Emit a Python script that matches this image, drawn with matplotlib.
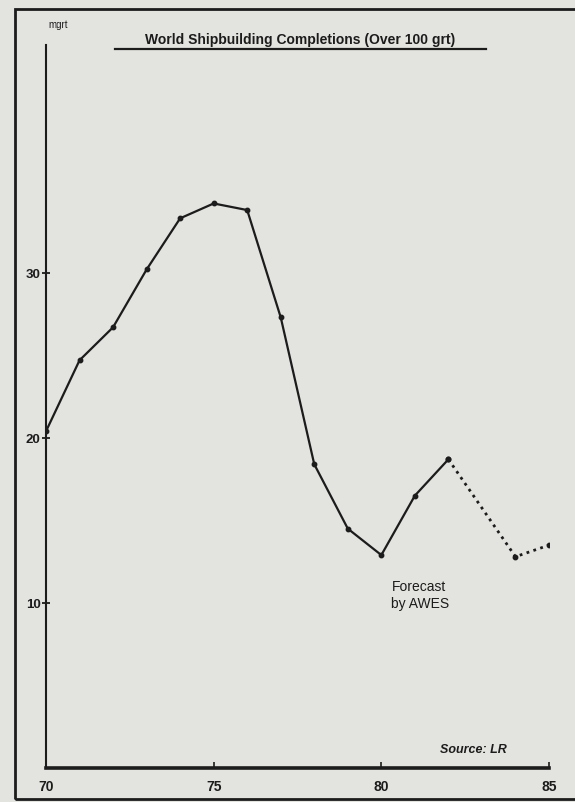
import matplotlib.pyplot as plt
from matplotlib.patches import Rectangle
from matplotlib.lines import Line2D

# completions, million grt
years = [70, 71, 72, 73, 74, 75, 76, 77, 78, 79, 80, 81, 82]
mgrt = [20.4, 24.7, 26.7, 30.2, 33.3, 34.2, 33.8, 27.3, 18.4, 14.5, 12.9, 16.5, 18.7]
fc_years = [82, 84, 85]
fc_mgrt = [18.7, 12.8, 13.5]
yticks = [10, 20, 30]
xticks = [70, 75, 80, 85]

bg = '#e3e3df'
ink = '#1c1c1c'
plt.rcParams['font.family'] = ['Liberation Sans', 'DejaVu Sans']
lab_font = ['Liberation Sans Narrow', 'Liberation Sans', 'DejaVu Sans']

fig = plt.figure(figsize=(5.75, 8.03), dpi=100, facecolor=bg)
ax = fig.add_axes([46 / 575, 34 / 803, 503 / 575, 723 / 803])
ax.set_facecolor(bg)

ax.plot(years, mgrt, color=ink, lw=1.6, marker='o', ms=3.2)
ax.plot(fc_years, fc_mgrt, color=ink, lw=2.0, ls=(0, (1, 1.6)), marker='o', ms=3.2)

ax.set_xlim(70, 85)
ax.set_ylim(0, 43.8)
for s in ['top', 'right']:
    ax.spines[s].set_visible(False)
ax.spines['left'].set_linewidth(1.5)
ax.spines['bottom'].set_linewidth(2.6)
ax.spines['left'].set_color(ink)
ax.spines['bottom'].set_color(ink)

ax.set_yticks(yticks)
ax.set_yticklabels([str(v) for v in yticks], fontsize=9.5, fontweight='bold',
                   family=lab_font, color=ink)
ax.set_xticks(xticks)
ax.set_xticklabels([str(v) for v in xticks], fontsize=10, fontweight='bold',
                   family=lab_font, color=ink)
ax.tick_params(axis='y', direction='inout', length=6, width=1.3, pad=1, colors=ink)
ax.tick_params(axis='x', direction='in', length=4, width=1.2, pad=8, colors=ink)

fig.text(48 / 575, 1 - 25 / 803, 'mgrt', fontsize=7, color=ink, ha='left', va='center')
fig.text(300 / 575, 1 - 40 / 803, 'World Shipbuilding Completions (Over 100 grt)',
         fontsize=10, fontweight='bold', color=ink, ha='center', va='center')
fig.add_artist(Line2D([115 / 575, 486 / 575], [1 - 50 / 803, 1 - 50 / 803],
                      color=ink, lw=1.6))

ax.text(83.75, 0.8, 'Source: LR', fontsize=9, fontweight='bold', style='italic',
        color=ink, ha='right', va='bottom')
ax.text(80.3, 9.6, 'Forecast\nby AWES', fontsize=10, color=ink, ha='left', va='bottom',
        linespacing=1.25)

fig.patches.append(Rectangle((15 / 575, 3 / 803), 1.0, 790 / 803, transform=fig.transFigure,
                             fill=False, edgecolor=ink, lw=2.0))

plt.savefig('out.png', dpi=100, facecolor=bg)
